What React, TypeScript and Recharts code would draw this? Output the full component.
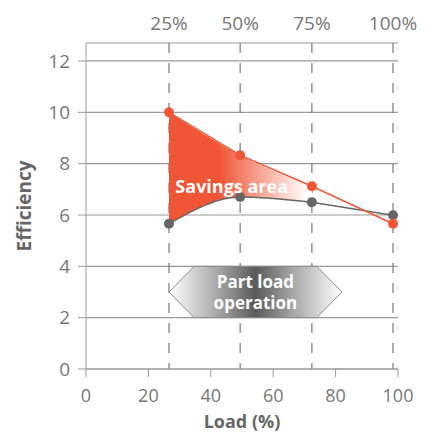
import React from 'react';
import {
  ComposedChart,
  Line,
  Area,
  XAxis,
  YAxis,
  CartesianGrid,
  ReferenceArea,
  ReferenceDot,
} from 'recharts';

// load positions of the four operating points
const loads = [26.6, 49.4, 72.4, 98.4];
const loadLabels = ['25%', '50%', '75%', '100%'];
const newEfficiency = [10, 8.33, 7.12, 5.66];
const oldEfficiency = [5.66, 6.7, 6.5, 5.99];
const xTicks = [0, 20, 40, 60, 80, 100];
const yTicks = [0, 2, 4, 6, 8, 10, 12];

const ORANGE = '#f05535';
const GREY = '#666666';
const AXIS = '#999999';
const FONT = '"Open Sans", "Noto Sans", sans-serif';

const data = loads.map((load, i) => ({
  load,
  newEff: newEfficiency[i],
  oldEff: oldEfficiency[i],
  // savings band only between 25% and 75%
  savings: i < 3 ? [oldEfficiency[i], newEfficiency[i]] : undefined,
  oldCurve: i < 3 ? oldEfficiency[i] : undefined,
  oldTail: i >= 2 ? oldEfficiency[i] : undefined,
}));

const PartLoadShape = (props: any) => {
  const { x, y, width, height } = props;
  const notch = 25;
  const mid = y + height / 2;
  const pts = [
    [x, mid],
    [x + notch, y],
    [x + width - notch, y],
    [x + width, mid],
    [x + width - notch, y + height],
    [x + notch, y + height],
  ]
    .map((p) => p.join(','))
    .join(' ');
  const cx = x + width / 2;
  return (
    <g>
      <polygon points={pts} fill="url(#partLoadGrad)" stroke="#8a8a8a" strokeWidth={1} />
      <text x={cx} y={mid - 4} textAnchor="middle" fill="#fff" fontSize={17} fontWeight={700} fontFamily={FONT}>
        Part load
      </text>
      <text x={cx} y={mid + 17} textAnchor="middle" fill="#fff" fontSize={17} fontWeight={700} fontFamily={FONT}>
        operation
      </text>
    </g>
  );
};

export default function App() {
  return (
    <div style={{ position: 'absolute', left: 0, top: 0, background: '#fff' }}>
      <ComposedChart
        width={428}
        height={433}
        data={data}
        margin={{ top: 0, right: 30, bottom: 0, left: 0 }}
        style={{ fontFamily: FONT }}
      >
        <defs>
          <linearGradient id="savingsGrad" x1="0" y1="0" x2="1" y2="0">
            <stop offset="0.35" stopColor={ORANGE} />
            <stop offset="0.97" stopColor="#ffffff" />
          </linearGradient>
          <linearGradient id="partLoadGrad" x1="0" y1="0" x2="1" y2="0">
            <stop offset="0" stopColor="#ffffff" />
            <stop offset="0.3" stopColor="#a0a0a0" />
            <stop offset="0.5" stopColor="#5a5a5a" />
            <stop offset="0.7" stopColor="#a0a0a0" />
            <stop offset="1" stopColor="#ffffff" />
          </linearGradient>
        </defs>
        <CartesianGrid xAxisId="bottom" yAxisId="y" vertical={false} stroke={AXIS} strokeWidth={1.2} />
        <CartesianGrid
          xAxisId="bottom"
          yAxisId="y"
          horizontal={false}
          verticalValues={loads}
          stroke="#777"
          strokeWidth={1.2}
          strokeDasharray="10 10"
        />
        <XAxis
          xAxisId="bottom"
          dataKey="load"
          type="number"
          domain={[0, 100]}
          ticks={xTicks}
          height={64}
          stroke={AXIS}
          tick={{ fill: '#777', fontSize: 18 }}
          tickSize={8}
          tickMargin={12}
          label={{ value: 'Load (%)', position: 'insideBottom', offset: 5, fill: GREY, fontSize: 18, fontWeight: 700 }}
        />
        <XAxis
          xAxisId="top"
          orientation="top"
          dataKey="load"
          type="number"
          domain={[0, 100]}
          ticks={loads}
          tickFormatter={(v: number) => loadLabels[loads.indexOf(v)]}
          height={43}
          axisLine={false}
          tickLine={false}
          tick={{ fill: '#777', fontSize: 19 }}
          tickMargin={7}
        />
        <YAxis
          yAxisId="y"
          type="number"
          domain={[0, 12.7]}
          ticks={yTicks}
          width={86}
          stroke={AXIS}
          tick={{ fill: '#777', fontSize: 19 }}
          tickSize={8}
          tickMargin={8}
          label={{ value: 'Efficiency', angle: -90, position: 'insideLeft', offset: 24, fill: GREY, fontSize: 19, fontWeight: 700, style: { textAnchor: 'middle' } }}
        />
        <ReferenceArea
          xAxisId="bottom"
          yAxisId="y"
          x1={26.6}
          x2={82}
          y1={2}
          y2={4}
          shape={<PartLoadShape />}
        />
        <Area
          xAxisId="bottom"
          yAxisId="y"
          dataKey="savings"
          type="monotone"
          stroke="none"
          fill="url(#savingsGrad)"
          fillOpacity={1}
          isAnimationActive={false}
          connectNulls={false}
        />
        <Line
          xAxisId="bottom"
          yAxisId="y"
          dataKey="oldCurve"
          type="monotone"
          stroke={GREY}
          strokeWidth={1.5}
          dot={false}
          isAnimationActive={false}
        />
        <Line
          xAxisId="bottom"
          yAxisId="y"
          dataKey="oldTail"
          type="linear"
          stroke={GREY}
          strokeWidth={1.5}
          dot={false}
          isAnimationActive={false}
        />
        <Line
          xAxisId="bottom"
          yAxisId="y"
          dataKey="oldEff"
          stroke="none"
          dot={{ r: 5, fill: GREY, stroke: 'none' }}
          isAnimationActive={false}
        />
        <Line
          xAxisId="bottom"
          yAxisId="y"
          dataKey="newEff"
          type="linear"
          stroke={ORANGE}
          strokeWidth={1.5}
          dot={{ r: 5, fill: ORANGE, stroke: 'none' }}
          isAnimationActive={false}
        />
        <ReferenceDot
          xAxisId="bottom"
          yAxisId="y"
          x={46.7}
          y={7.1}
          r={0}
          fill="none"
          stroke="none"
          label={{ value: 'Savings area', fill: '#fff', fontSize: 18, fontWeight: 700, position: 'center' }}
        />
      </ComposedChart>
    </div>
  );
}
